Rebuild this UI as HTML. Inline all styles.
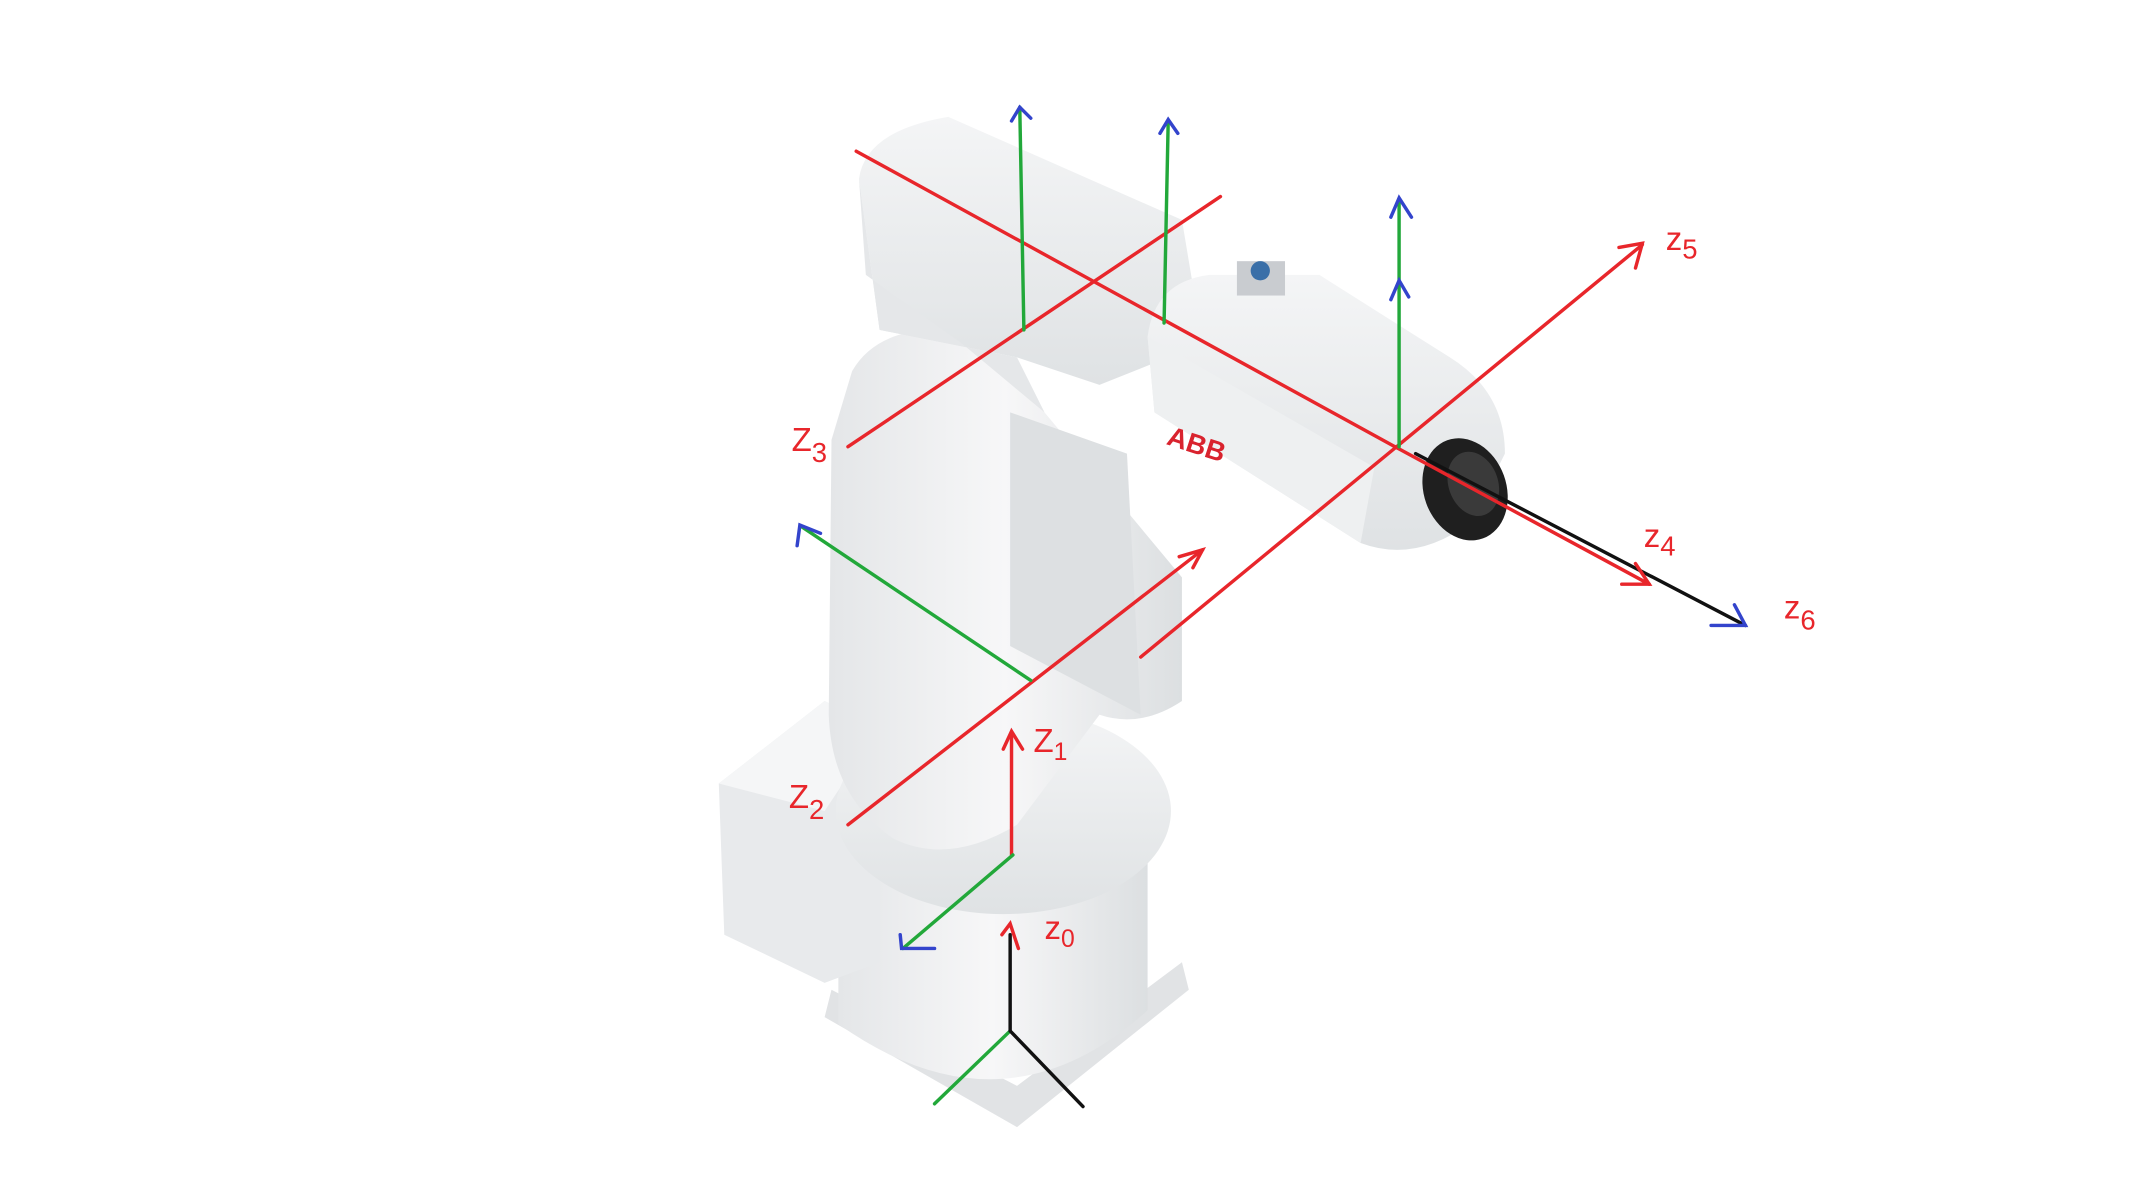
<!DOCTYPE html>
<html><head><meta charset="utf-8"><style>
html,body{margin:0;padding:0;background:#fff;width:2133px;height:1200px;overflow:hidden}
svg{display:block}
text{font-family:"Liberation Sans",sans-serif;fill:#e8262b;font-size:24px}
</style></head><body>
<svg width="2133" height="1200" viewBox="0 0 1552 873" preserveAspectRatio="none">
<defs>
<linearGradient id="g1" x1="0" x2="1"><stop offset="0" stop-color="#e4e6e8"/><stop offset="0.5" stop-color="#f7f7f8"/><stop offset="1" stop-color="#dcdfe1"/></linearGradient>
<linearGradient id="g2" x1="0" x2="0" y1="0" y2="1"><stop offset="0" stop-color="#f4f5f6"/><stop offset="1" stop-color="#dfe2e4"/></linearGradient>
</defs>
<rect width="1552" height="873" fill="#fff"/>
<g>
<polygon points="600,740 740,820 865,720 860,700 740,790 605,720" fill="#e1e3e5"/>
<path d="M610,620 L610,745 Q730,830 835,735 L835,600 Q730,660 610,620 Z" fill="url(#g1)"/>
<polygon points="523,570 600,510 640,530 640,700 600,715 527,680" fill="#e8eaec"/>
<polygon points="523,570 600,510 640,530 600,590" fill="#f5f6f7"/>
<ellipse cx="730" cy="590" rx="122" ry="75" fill="url(#g2)"/>
<path d="M620,270 Q640,235 700,240 L760,300 L860,420 L860,510 Q830,530 800,520 L740,600 Q690,630 650,610 Q605,580 603,520 L605,320 Z" fill="url(#g1)"/>
<path d="M735,300 L820,330 L830,520 L735,470 Z" fill="#dde0e2"/>
<path d="M625,130 Q630,95 690,85 L860,160 L875,250 L800,280 L740,260 L640,240 Z" fill="url(#g2)"/>
<path d="M625,130 L640,240 L740,260 L760,300 L700,250 L630,200 Z" fill="#e5e7e9"/>
<path d="M835,245 Q840,205 880,200 L960,200 L1055,260 Q1095,285 1095,330 L1070,380 Q1030,410 990,395 L840,300 Z" fill="url(#g2)"/>
<path d="M835,245 L840,300 L990,395 L1000,340 Z" fill="#eef0f1"/>
<rect x="900" y="190" width="35" height="25" fill="#c9ccd0"/>
<circle cx="917" cy="197" r="7" fill="#3a6fa8"/>
<text x="848" y="323" style="font-weight:bold;font-size:20px;fill:#d9232e" transform="rotate(18 848 323)">ABB</text>
<ellipse cx="1066" cy="356" rx="30" ry="38" fill="#1f1f1f" transform="rotate(-20 1066 356)"/>
<ellipse cx="1072" cy="352" rx="18" ry="24" fill="#3a3a3a" transform="rotate(-20 1072 352)"/>
</g>
<g stroke-width="2.5" fill="none" stroke-linecap="round">
<line x1="623" y1="110" x2="1015" y2="325" stroke="#e8262b"/>
<line x1="1015" y1="325" x2="1200" y2="425" stroke="#e8262b"/>
<line x1="1030" y1="330" x2="1270" y2="455" stroke="#111"/>
<line x1="888" y1="143" x2="617" y2="325" stroke="#e8262b"/>
<line x1="1195" y1="178" x2="830" y2="478" stroke="#e8262b"/>
<line x1="875" y1="400" x2="617" y2="600" stroke="#e8262b"/>
<line x1="736" y1="535" x2="736" y2="622" stroke="#e8262b"/>
<line x1="742" y1="78" x2="745" y2="240" stroke="#22a83a"/>
<line x1="850" y1="88" x2="847" y2="235" stroke="#22a83a"/>
<line x1="1018" y1="145" x2="1018" y2="325" stroke="#22a83a"/>
<line x1="583" y1="383" x2="750" y2="495" stroke="#22a83a"/>
<line x1="737" y1="622" x2="657" y2="690" stroke="#22a83a"/>
<line x1="735" y1="750" x2="680" y2="803" stroke="#22a83a"/>
<line x1="735" y1="750" x2="788" y2="805" stroke="#111"/>
<line x1="735" y1="680" x2="735" y2="750" stroke="#111"/>
<g stroke="#3344cc">
<polyline points="736,88 742,78 750,86"/><polyline points="844,97 850,87 857,97"/>
<polyline points="1012,158 1018,144 1027,158"/><polyline points="1012,218 1018,204 1025,216"/>
<polyline points="580,397 582,382 597,388"/><polyline points="655,680 656,690 680,690"/>
<polyline points="1245,455 1270,455 1262,440"/>
</g>
<g stroke="#e8262b">
<polyline points="1178,180 1195,177 1190,195"/><polyline points="858,405 875,400 868,413"/>
<polyline points="1180,425 1200,425 1190,410"/><polyline points="729,680 735,672 741,690"/>
<polyline points="730,545 736,532 744,545"/>
</g>
</g>
<g>
<text x="576" y="328">Z<tspan dy="8" font-size="20">3</tspan></text>
<text x="574" y="588">Z<tspan dy="8" font-size="20">2</tspan></text>
<text x="752" y="547">Z<tspan dy="6" font-size="18">1</tspan></text>
<text x="760" y="683">z<tspan dy="6" font-size="18">0</tspan></text>
<text x="1212" y="182">z<tspan dy="6" font-size="20">5</tspan></text>
<text x="1196" y="398">z<tspan dy="6" font-size="20">4</tspan></text>
<text x="1298" y="450">z<tspan dy="8" font-size="20">6</tspan></text>
</g>
</svg>
</body></html>
